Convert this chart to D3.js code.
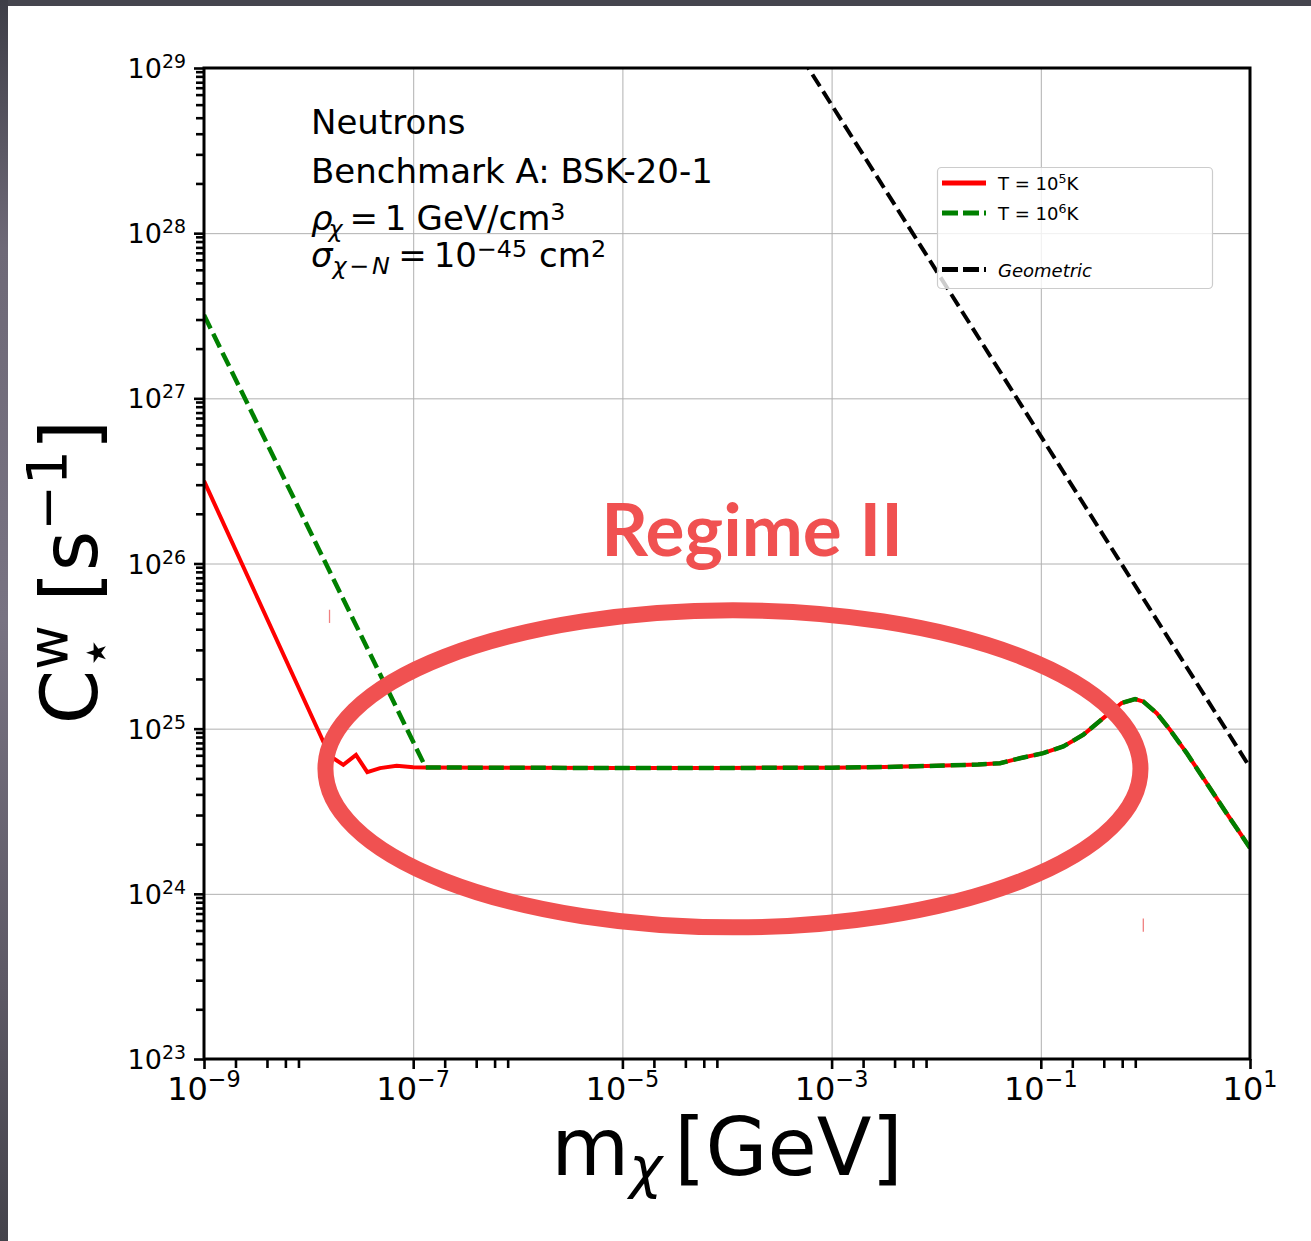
<!DOCTYPE html>
<html>
<head>
<meta charset="utf-8">
<script src="https://cdn.jsdelivr.net/npm/d3@7"></script>
<style>
  body { margin: 0; background: #fff; }
  text { font-family: "DejaVu Sans", sans-serif; }
</style>
</head>
<body>
<div id="container"></div>
<script>
// ---- data (log10 values) ----
const xTickExp = [-9, -7, -5, -3, -1, 1];
const yTickExp = [23, 24, 25, 26, 27, 28, 29];
const xMinorMant = [2, 4, 6, 8];
const yMinorMant = [2, 3, 4, 5, 6, 6.9, 7.6, 8.2, 8.9, 9.5];

// T = 1e5 K, low-mass part
const lowT_logM = [-9, -7.815, -7.764, -7.668, -7.547, -7.439, -7.317, -7.158, -6.999, -6.871];
const lowT_logC = [26.50, 24.860, 24.821, 24.781, 24.841, 24.737, 24.761, 24.775, 24.767, 24.765];
// T = 1e6 K, low-mass part
const highT_logM = [-9, -6.88];
const highT_logC = [27.505, 24.765];
// common part of both temperatures
const shared_logM = [-6.0, -5.0, -4.0, -3.0, -2.5, -2.0, -1.6, -1.39, -1.2, -0.976, -0.785, -0.594, -0.403, -0.227, -0.099, -0.02, 0.108, 0.235, 0.395, 0.586, 0.777, 1.0];
const shared_logC = [24.763, 24.762, 24.762, 24.764, 24.768, 24.775, 24.783, 24.791, 24.821, 24.852, 24.892, 24.963, 25.064, 25.155, 25.179, 25.164, 25.094, 24.993, 24.852, 24.670, 24.487, 24.278];
// geometric limit
const geo_logM = [-4, 1];
const geo_logC = [29.78, 24.765];

// annotation ellipse (log10 centre, half-widths in decades)
const ell = {cm: -3.943, cc: 24.757, rm: 3.896, rc: 0.96};
const regimeLabel = {m: -3.761, c: 26.046, text: "Regime II"};
const marks = [[-7.8, 25.72, 25.64], [-0.02, 23.85, 23.77]];

const W = 1311, H = 1241;
const pLeft = 204, pRight = 1250, pTop = 68, pBottom = 1059;
const pow = e => Math.pow(10, e);
const zip = (a, b) => a.map((v, i) => [pow(v), pow(b[i])]);

const t5 = zip(lowT_logM, lowT_logC).concat(zip(shared_logM, shared_logC));
const t6 = zip(highT_logM, highT_logC).concat(zip(shared_logM, shared_logC));
const geo = zip(geo_logM, geo_logC);

const svg = d3.select('#container').append('svg')
  .attr('width', W).attr('height', H);

// window border of the screenshot
const grad = svg.append('defs').append('linearGradient')
  .attr('id', 'edge').attr('x1', 0).attr('y1', 0).attr('x2', 0).attr('y2', 1);
[[0, '#3e3e47'], [0.2, '#6e6977'], [0.5, '#787382'], [0.8, '#5c5864'], [1, '#44434b']]
  .forEach(s => grad.append('stop').attr('offset', s[0]).attr('stop-color', s[1]));
svg.append('rect').attr('x', 0).attr('y', 0).attr('width', W).attr('height', 6).attr('fill', '#45454e');
svg.append('rect').attr('x', 0).attr('y', 0).attr('width', 8).attr('height', H).attr('fill', 'url(#edge)');

svg.append('clipPath').attr('id', 'plot')
  .append('rect').attr('x', pLeft).attr('y', pTop).attr('width', pRight - pLeft).attr('height', pBottom - pTop);

const x = d3.scaleLog().domain([1e-9, 1e1]).range([pLeft, pRight]);
const y = d3.scaleLog().domain([1e23, 1e29]).range([pBottom, pTop]);

// grid
const gx = svg.append('g').attr('transform', `translate(0,${pBottom})`)
  .call(d3.axisBottom(x).tickValues(xTickExp.map(pow)).tickSize(-(pBottom - pTop)).tickFormat(''));
const gy = svg.append('g').attr('transform', `translate(${pLeft},0)`)
  .call(d3.axisLeft(y).tickValues(yTickExp.map(pow)).tickSize(-(pRight - pLeft)).tickFormat(''));
[gx, gy].forEach(g => {
  g.select('.domain').remove();
  g.selectAll('line').attr('stroke', '#b0b0b0').attr('stroke-width', 1);
});

// curves
const line = d3.line().x(d => x(d[0])).y(d => y(d[1]));
const curves = svg.append('g').attr('clip-path', 'url(#plot)');
curves.append('path').datum(geo).attr('d', line).attr('fill', 'none')
  .attr('stroke', '#000').attr('stroke-width', 4).attr('stroke-dasharray', '14,6');
curves.append('path').datum(t5).attr('d', line).attr('fill', 'none')
  .attr('stroke', '#ff0000').attr('stroke-width', 4);
curves.append('path').datum(t6).attr('d', line).attr('fill', 'none')
  .attr('stroke', '#008000').attr('stroke-width', 4.5).attr('stroke-dasharray', '15,6');

// annotation
const red = '#f05151';
const cx = x(pow(ell.cm)), cy = y(pow(ell.cc));
svg.append('ellipse').attr('cx', cx).attr('cy', cy)
  .attr('rx', x(pow(ell.cm + ell.rm)) - cx).attr('ry', cy - y(pow(ell.cc + ell.rc)))
  .attr('fill', 'none').attr('stroke', red).attr('stroke-width', 16);
svg.append('text').attr('x', x(pow(regimeLabel.m))).attr('y', y(pow(regimeLabel.c)))
  .attr('text-anchor', 'middle').style('font-family', 'Lato, sans-serif')
  .attr('font-weight', 700).attr('font-size', 73).attr('fill', red).text(regimeLabel.text);
marks.forEach(m => svg.append('line')
  .attr('x1', x(pow(m[0]))).attr('x2', x(pow(m[0])))
  .attr('y1', y(pow(m[1]))).attr('y2', y(pow(m[2])))
  .attr('stroke', '#f08080').attr('stroke-width', 1.3));

// rich text: one text element, pieces laid out one after the other as tspans
function rich(parent, parts, size) {
  const g = parent.append('g');
  const txt = g.append('text').attr('font-size', size);
  let end = 0, prevStart = 0;
  parts.forEach(p => {
    const start = p.back ? prevStart : end + (p.gap || 0) * size;
    const t = txt.append('tspan').attr('x', start).attr('y', (p.dy || 0) * size)
      .attr('font-size', size * (p.s || 1)).text(p.t);
    if (p.it) t.attr('font-style', 'italic');
    const w = t.node().getComputedTextLength();
    prevStart = start;
    end = Math.max(end, start + w);
  });
  return {g, w: end};
}

// text block
const info = svg.append('g');
rich(info, [{t: 'Neutrons'}], 34).g.attr('transform', 'translate(311,134)');
rich(info, [{t: 'Benchmark A: BSK-20-1'}], 34).g.attr('transform', 'translate(311,183)');
rich(info, [{t: 'ρ', it: 1}, {t: 'χ', it: 1, s: 0.7, dy: 0.2, gap: -0.12}, {t: '=', gap: 0.2},
  {t: '1', gap: 0.2}, {t: 'GeV/cm', gap: 0.3}, {t: '3', s: 0.7, dy: -0.3}], 34)
  .g.attr('transform', 'translate(311,230)');
rich(info, [{t: 'σ', it: 1}, {t: 'χ', it: 1, s: 0.7, dy: 0.2}, {t: '−', s: 0.7, dy: 0.2, gap: 0.08},
  {t: 'N', it: 1, s: 0.7, dy: 0.2, gap: 0.08}, {t: '=', gap: 0.25}, {t: '10', gap: 0.2},
  {t: '−45', s: 0.7, dy: -0.3}, {t: 'cm', gap: 0.35}, {t: '2', s: 0.7, dy: -0.3}], 34)
  .g.attr('transform', 'translate(311,267)');

// legend
const lg = svg.append('g');
lg.append('rect').attr('x', 937.5).attr('y', 167.5).attr('width', 275).attr('height', 121).attr('rx', 4)
  .attr('fill', 'rgba(255,255,255,0.8)').attr('stroke', '#cccccc').attr('stroke-width', 1.2);
const legendRows = [
  {color: '#ff0000', dash: null, y: 183, parts: [{t: 'T = 10'}, {t: '5', s: 0.7, dy: -0.4}, {t: 'K'}]},
  {color: '#008000', dash: '16,5', y: 213, parts: [{t: 'T = 10'}, {t: '6', s: 0.7, dy: -0.4}, {t: 'K'}]},
  {color: '#000', dash: '16,5', y: 269.5, parts: [{t: 'Geometric', it: 1}]}
];
legendRows.forEach(r => {
  lg.append('line').attr('x1', 942).attr('x2', 986).attr('y1', r.y).attr('y2', r.y)
    .attr('stroke', r.color).attr('stroke-width', 5).attr('stroke-dasharray', r.dash);
  rich(lg, r.parts, 18).g.attr('transform', `translate(998,${r.y + 7})`);
});

// frame
svg.append('rect').attr('x', pLeft).attr('y', pTop).attr('width', pRight - pLeft).attr('height', pBottom - pTop)
  .attr('fill', 'none').attr('stroke', '#000').attr('stroke-width', 3);

// ticks
const xMinor = [];
xTickExp.slice(0, -1).forEach(e => xMinorMant.forEach(m => xMinor.push(m * pow(e))));
const yMinor = [];
yTickExp.slice(0, -1).forEach(e => yMinorMant.forEach(m => yMinor.push(m * pow(e))));
const tickAxes = [
  svg.append('g').attr('transform', `translate(0,${pBottom})`)
    .call(d3.axisBottom(x).tickValues(xTickExp.map(pow)).tickSize(10).tickFormat('')),
  svg.append('g').attr('transform', `translate(0,${pBottom})`)
    .call(d3.axisBottom(x).tickValues(xMinor).tickSize(9).tickFormat('')),
  svg.append('g').attr('transform', `translate(${pLeft},0)`)
    .call(d3.axisLeft(y).tickValues(yTickExp.map(pow)).tickSize(10).tickFormat('')),
  svg.append('g').attr('transform', `translate(${pLeft},0)`)
    .call(d3.axisLeft(y).tickValues(yMinor).tickSize(8).tickFormat(''))
];
tickAxes.forEach(g => {
  g.select('.domain').remove();
  g.selectAll('line').attr('stroke', '#000').attr('stroke-width', 2.6);
});

// tick labels
const labels = svg.append('g');
xTickExp.forEach(e => {
  const r = rich(labels, [{t: '10'}, {t: (e < 0 ? '−' : '') + Math.abs(e), s: 0.7, dy: -0.4}], 32);
  r.g.attr('transform', `translate(${x(pow(e)) - r.w / 2},1100)`);
});
yTickExp.forEach(e => {
  const r = rich(labels, [{t: '10'}, {t: String(e), s: 0.7, dy: -0.37}], 27);
  r.g.attr('transform', `translate(${186 - r.w},${y(pow(e)) + 10})`);
});

// axis titles
const xl = rich(svg, [{t: 'm'}, {t: 'χ', it: 1, s: 0.7, dy: 0.15}, {t: '[GeV]', gap: 0.15}], 80);
xl.g.attr('transform', `translate(${(pLeft + pRight) / 2 - xl.w / 2},1175)`);
const yl = rich(svg, [{t: 'C'}, {t: 'w', s: 0.7, dy: -0.38}, {t: '⋆', s: 0.7, dy: 0.22, back: 1},
  {t: '[s', gap: 0.3}, {t: '−1', s: 0.7, dy: -0.4}, {t: ']'}], 78);
yl.g.attr('transform', `translate(97,${572 + yl.w / 2}) rotate(-90)`);
</script>
</body>
</html>
